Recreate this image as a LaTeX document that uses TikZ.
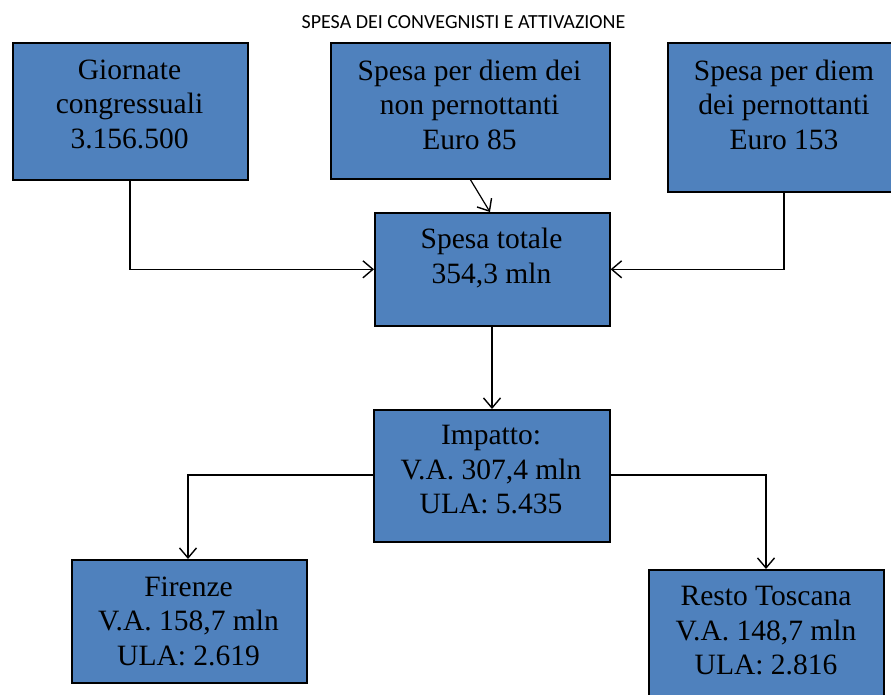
\documentclass[tikz,border=0pt]{standalone}
\usepackage{fontspec}
\setmainfont{Liberation Serif}
\newfontfamily\titlefont{Carlito}
\usetikzlibrary{arrows.meta}
\definecolor{boxblue}{HTML}{4F81BD}
\tikzset{
  box/.style={draw=black, line width=1.6pt, fill=boxblue, anchor=north west, inner sep=0pt},
  boxtext/.style={anchor=north, align=center, inner sep=0pt, font=\fontsize{29.5}{34.5}\selectfont},
  conn/.style={draw=black, line width=1.2pt, -{Straight Barb[length=10pt,width=17pt,line width=1.4pt]}},
}
\begin{document}
\begin{tikzpicture}[x=1pt,y=-1pt]
\useasboundingbox (0,0) rectangle (891,694);
\node[anchor=base, inner sep=0pt, font=\titlefont\fontsize{20}{24}\selectfont] (title) at (463.5,28) {SPESA DEI CONVEGNISTI E ATTIVAZIONE};
% boxes
\node[box, minimum width=235pt, minimum height=137pt] (A) at (12,42) {};
\node[box, minimum width=279pt, minimum height=136pt] (B) at (330,42) {};
\node[box, minimum width=230pt, minimum height=149pt] (C) at (667,42) {};
\node[box, minimum width=235pt, minimum height=113pt] (D) at (374,212) {};
\node[box, minimum width=236pt, minimum height=132pt] (E) at (373,409) {};
\node[box, minimum width=235pt, minimum height=123pt] (F) at (71,559) {};
\node[box, minimum width=235pt, minimum height=130pt] (G) at (648,569) {};
% texts (top of first line = baseline - 20.5)
\node[boxtext] (At) at (129.5,59.5) {Giornate\\congressuali\\3.156.500};
\node[boxtext] (Bt) at (469.5,59.5) {Spesa per diem dei\\non pernottanti\\Euro 85};
\node[boxtext] (Ct) at (784,59.5) {Spesa per diem\\dei pernottanti\\Euro 153};
\node[boxtext] (Dt) at (491.5,228) {Spesa totale\\354,3 mln};
\node[boxtext] (Et) at (491,425) {Impatto:\\V.A. 307,4 mln\\ULA: 5.435};
\node[boxtext] (Ft) at (188.5,576.5) {Firenze\\V.A. 158,7 mln\\ULA: 2.619};
\node[boxtext] (Gt) at (766,586) {Resto Toscana\\V.A. 148,7 mln\\ULA: 2.816};
% connector helper coordinates
\coordinate (Bs) at (470,179);
\coordinate (De) at (490,212);
% connectors
\draw[conn] (A.south -| 130,0) |- (D.west);
\draw[conn] (C.south -| 784,0) |- (D.east);
\draw[conn] (Bs) -- (De);
\draw[conn] (D.south -| 492,0) -- (E.north -| 492,0);
\draw[conn] (E.west |- 0,475) -| (F.north -| 188,0);
\draw[conn] (E.east |- 0,475) -| (G.north -| 766,0);
\end{tikzpicture}
\end{document}
